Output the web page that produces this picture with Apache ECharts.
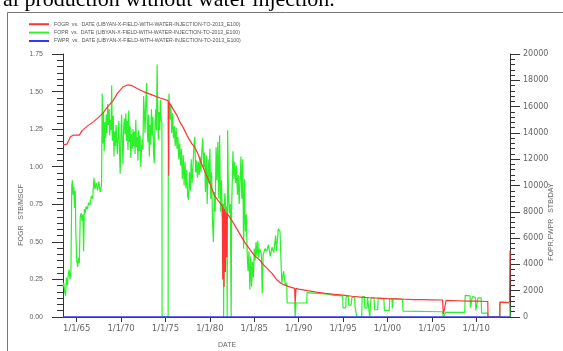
<!DOCTYPE html>
<html>
<head>
<meta charset="utf-8">
<script src="https://cdn.jsdelivr.net/npm/echarts@6/dist/echarts.min.js"></script>
<style>
  html, body { margin: 0; padding: 0; background: #fff; }
  #chart { width: 563px; height: 351px; }
</style>
</head>
<body>
<div id="chart"></div>
<script>
// Date axis: decimal years, labelled at 1 January every five years
const dateTicks = [1965, 1970, 1975, 1980, 1985, 1990, 1995, 2000, 2005, 2010];
const dateTickLabels = ['1/1/65', '1/1/70', '1/1/75', '1/1/80', '1/1/85', '1/1/90', '1/1/95', '1/1/00', '1/1/05', '1/1/10'];
const dateStart = 1963.46;
const dateEnd = 2013.8;

// Field oil/gas ratio, STB/MSCF (left axis)
const fogr = [
  [1963.46, 1.145], [1963.9, 1.15], [1964.3, 1.20], [1964.6, 1.21], [1965.3, 1.21], [1965.6, 1.24],
  [1966.2, 1.27], [1966.9, 1.30], [1967.5, 1.33], [1968.0, 1.36], [1968.5, 1.40], [1969.1, 1.44],
  [1969.6, 1.49], [1970.2, 1.53], [1970.8, 1.545], [1971.2, 1.54], [1971.8, 1.52], [1972.5, 1.50],
  [1973.4, 1.48], [1974.4, 1.457], [1975.3, 1.44], [1975.36, 1.44], [1975.37, 0.94], [1975.39, 1.43],
  [1975.7, 1.40], [1976.0, 1.37], [1976.3, 1.34], [1976.6, 1.30], [1977.0, 1.26], [1977.5, 1.20],
  [1978.0, 1.15], [1978.3, 1.13], [1978.7, 1.08], [1979.0, 1.03], [1979.5, 0.96], [1980.0, 0.89],
  [1980.5, 0.81], [1981.0, 0.77], [1981.4, 0.74], [1981.45, 0.25], [1981.5, 0.73], [1981.6, 0.20],
  [1981.65, 0.72], [1981.75, 0.30], [1981.8, 0.70], [1981.9, 0.40], [1981.95, 0.69], [1982.5, 0.64],
  [1983.0, 0.59], [1983.5, 0.54], [1984.0, 0.49], [1984.5, 0.45], [1985.0, 0.41], [1985.6, 0.38],
  [1986.0, 0.35], [1986.5, 0.32], [1987.0, 0.29], [1987.5, 0.25], [1988.0, 0.225], [1988.5, 0.21],
  [1989.0, 0.20], [1989.55, 0.19], [1989.6, 0.09], [1989.7, 0.19], [1990.0, 0.186], [1991.0, 0.175],
  [1992.0, 0.165], [1993.0, 0.157], [1994.0, 0.15], [1995.0, 0.145], [1996.0, 0.138], [1997.0, 0.132],
  [1998.0, 0.128], [1999.0, 0.125], [2000.0, 0.122], [2001.0, 0.12], [2002.0, 0.118], [2003.0, 0.116],
  [2004.0, 0.115], [2005.0, 0.114], [2006.2, 0.113], [2006.3, 0.02], [2006.5, 0.02], [2006.6, 0.11],
  [2008.0, 0.108], [2009.0, 0.106], [2010.0, 0.105], [2011.3, 0.103], [2011.32, 0], [2012.65, 0],
  [2012.67, 0.097], [2013.5, 0.097], [2013.75, 0.10], [2013.8, 0.44]
];

// Field oil production rate, STB/DAY (right axis)
const fopr = [
  [1963.46, 2300], [1963.55, 2600], [1963.65, 1900], [1963.75, 1600], [1963.85, 3000], [1963.95, 2400],
  [1964.05, 3200], [1964.15, 3600], [1964.25, 2900], [1964.35, 3400], [1964.45, 10000], [1964.52, 10400],
  [1964.6, 9300], [1964.68, 9900], [1964.76, 8300], [1964.84, 9600], [1964.9, 6600], [1965.0, 4400],
  [1965.1, 3800], [1965.2, 4500], [1965.3, 4100], [1965.4, 7600], [1965.5, 7900], [1965.6, 7300],
  [1965.7, 7800], [1965.78, 5000], [1965.86, 8200], [1965.95, 7900], [1966.05, 8400], [1966.2, 8200],
  [1966.35, 8700], [1966.5, 8500], [1966.65, 9200], [1966.8, 9000], [1966.95, 10600], [1967.05, 9700],
  [1967.2, 10200], [1967.35, 9600], [1967.5, 10300], [1967.65, 9500], [1967.8, 10000],
  [1967.88, 17000], [1967.95, 13200], [1968.02, 15600], [1968.1, 12600], [1968.18, 14800], [1968.26, 13600],
  [1968.34, 15400], [1968.42, 14000], [1968.5, 16200], [1968.58, 14600], [1968.66, 15800], [1968.72, 13800],
  [1968.8, 15000], [1968.88, 14200], [1968.94, 17600], [1969.02, 13400], [1969.12, 15300], [1969.2, 12200],
  [1969.28, 14100], [1969.36, 13000], [1969.44, 14600], [1969.5, 13600], [1969.58, 12400], [1969.66, 13800],
  [1969.74, 14900], [1969.82, 12600], [1969.9, 10900], [1969.98, 13700], [1970.06, 15400], [1970.14, 13100],
  [1970.22, 11600], [1970.3, 14500], [1970.38, 15100], [1970.46, 13900], [1970.54, 15500], [1970.62, 13400],
  [1970.7, 14900], [1970.78, 12700], [1970.86, 15700], [1970.94, 13300], [1971.02, 14500], [1971.1, 12100],
  [1971.18, 13900], [1971.26, 12800], [1971.34, 14300], [1971.42, 13000], [1971.5, 14100], [1971.58, 12400],
  [1971.66, 15000], [1971.74, 12900], [1971.82, 13700], [1971.9, 11900], [1971.98, 14200], [1972.06, 12600],
  [1972.14, 13800], [1972.22, 11400], [1972.3, 12800], [1972.38, 13500], [1972.46, 12700], [1972.54, 16800],
  [1972.62, 15600], [1972.7, 14000], [1972.78, 16200], [1972.88, 17800], [1972.94, 14600], [1973.02, 13300],
  [1973.1, 15400], [1973.18, 12200], [1973.26, 14600], [1973.34, 13100], [1973.42, 15800], [1973.5, 13800],
  [1973.58, 15200], [1973.66, 12400], [1973.74, 11700], [1973.82, 14600], [1973.9, 15800], [1973.98, 14200],
  [1974.06, 19200], [1974.12, 16000], [1974.2, 13500], [1974.28, 15600], [1974.36, 14200], [1974.44, 16500],
  [1974.52, 15000], [1974.6, 14800], [1974.62, 0], [1975.3, 0], [1975.32, 15000],
  [1975.4, 17000], [1975.5, 15000], [1975.6, 16200], [1975.7, 14000], [1975.8, 15500], [1975.9, 13600],
  [1976.0, 14500], [1976.1, 13000], [1976.2, 14400], [1976.3, 12800], [1976.4, 13700], [1976.5, 12000],
  [1976.6, 13200], [1976.7, 11500], [1976.8, 12800], [1976.9, 10500], [1977.0, 12300], [1977.1, 10000],
  [1977.2, 11800], [1977.3, 9800], [1977.4, 11200], [1977.5, 9200], [1977.6, 8900], [1977.7, 11000],
  [1977.8, 9600], [1977.9, 12000], [1978.0, 10200], [1978.1, 11500], [1978.2, 13000], [1978.3, 13700],
  [1978.4, 11000], [1978.5, 11900], [1978.6, 10600], [1978.7, 11800], [1978.8, 10800], [1978.9, 12200],
  [1979.0, 11000], [1979.1, 12700], [1979.2, 13600], [1979.3, 11400], [1979.4, 12500], [1979.5, 9500],
  [1979.6, 12300], [1979.7, 8600], [1979.8, 12000], [1979.9, 10200], [1980.0, 12800], [1980.1, 9000],
  [1980.2, 11000], [1980.3, 7200], [1980.4, 5700], [1980.5, 9500], [1980.6, 8000], [1980.7, 12900],
  [1980.8, 10400], [1980.9, 13300], [1981.0, 9000], [1981.1, 13800], [1981.2, 8000], [1981.3, 10400],
  [1981.4, 7600], [1981.5, 8600], [1981.55, 0], [1981.6, 8200], [1981.7, 9400], [1981.8, 7800],
  [1981.9, 8400], [1981.95, 0], [1982.0, 14200], [1982.1, 9000], [1982.2, 7900], [1982.3, 8600],
  [1982.4, 0], [1982.45, 8200], [1982.6, 12600], [1982.7, 10500], [1982.8, 11800], [1982.9, 10200],
  [1983.0, 11500], [1983.1, 9300], [1983.2, 10800], [1983.3, 8600], [1983.4, 10400], [1983.5, 12200],
  [1983.6, 9000], [1983.7, 12000], [1983.8, 5200], [1983.9, 10500], [1984.0, 6500], [1984.1, 7800],
  [1984.2, 4800], [1984.3, 3500], [1984.4, 5000], [1984.5, 2100], [1984.6, 4600], [1984.7, 2300],
  [1984.8, 4200], [1984.9, 3000], [1985.0, 5200], [1985.1, 4300], [1985.2, 5700], [1985.3, 4600],
  [1985.4, 5800], [1985.5, 4500], [1985.6, 5200], [1985.8, 4800], [1985.9, 1800], [1986.0, 4700],
  [1986.2, 5200], [1986.4, 5000], [1986.6, 5500], [1986.8, 4600], [1987.0, 5300], [1987.2, 4900],
  [1987.4, 6200], [1987.5, 5000], [1987.7, 6700], [1987.9, 6500], [1988.0, 6400], [1988.1, 2600],
  [1988.3, 3500], [1988.5, 2400], [1988.65, 2600], [1988.7, 1065], [1989.55, 1065], [1989.6, 0],
  [1989.7, 1065], [1990.9, 1065], [1990.95, 1850], [1992.0, 1800], [1993.0, 1750], [1994.0, 1650],
  [1994.95, 1600], [1995.0, 700], [1995.3, 700], [1995.35, 1550], [1995.6, 1550], [1995.65, 900],
  [1995.9, 900], [1996.0, 1500], [1996.3, 1500], [1996.35, 800], [1996.5, 800], [1996.55, 0],
  [1997.1, 0], [1997.15, 1550], [1997.4, 1550], [1997.45, 700], [1997.7, 700], [1997.75, 1500],
  [1997.95, 1500], [1998.0, 0], [1998.1, 0], [1998.15, 1450], [1998.5, 1450], [1998.55, 550],
  [1998.9, 550], [1998.95, 1400], [1999.6, 1400], [1999.65, 500], [2000.2, 500], [2000.25, 1400],
  [2000.5, 1400], [2000.55, 650], [2000.6, 650], [2000.65, 1400], [2001.7, 1350], [2001.75, 450],
  [2006.2, 400], [2006.3, 0], [2006.45, 0], [2006.55, 350], [2008.7, 350], [2008.75, 1650],
  [2009.3, 1600], [2009.35, 700], [2009.5, 700], [2009.55, 1550], [2009.9, 1500], [2009.95, 500],
  [2010.15, 500], [2010.2, 1450], [2010.55, 1450], [2010.6, 300], [2011.3, 300], [2011.32, 0],
  [2012.65, 0], [2012.67, 1150], [2013.75, 1050], [2013.8, 0]
];

// Field water production rate, STB/DAY (right axis) - no water produced
const fwpr = [[1963.46, 0], [2013.8, 0]];

const caseLabel = '  vs.  DATE (LIBYAN-X-FIELD-WITH-WATER-INJECTION-TO-2013_E100)';

const chart = echarts.init(document.getElementById('chart'), null, { renderer: 'canvas' });

const axisInk = '#333';
const labelInk = '#666';

chart.setOption({
  animation: false,
  backgroundColor: '#fff',
  grid: { left: 63, right: 53, top: 54, bottom: 34, containLabel: false },
  legend: {
    orient: 'vertical',
    left: 24,
    top: 15,
    itemWidth: 20,
    itemHeight: 2,
    itemGap: 0,
    icon: 'rect',
    selectedMode: false,
    data: ['FOGR', 'FOPR', 'FWPR'],
    formatter: name => name + caseLabel,
    textStyle: { fontSize: 5.2, lineHeight: 8.4, color: '#555', fontFamily: 'Liberation Sans' }
  },
  xAxis: {
    type: 'value',
    min: dateStart,
    max: dateEnd,
    splitLine: { show: false },
    axisLine: { show: true, lineStyle: { color: axisInk, width: 1 } },
    axisTick: { show: true, customValues: dateTicks, length: 5, lineStyle: { color: axisInk } },
    axisLabel: {
      customValues: dateTicks,
      formatter: v => dateTickLabels[dateTicks.indexOf(Math.round(v))],
      color: labelInk, fontSize: 8.5, fontFamily: 'DejaVu Sans', margin: 7
    }
  },
  yAxis: [
    {
      type: 'value', position: 'left', min: 0, max: 1.75, interval: 0.25,
      splitLine: { show: false },
      axisLine: { show: true, lineStyle: { color: axisInk } },
      axisTick: { show: true, length: 11, lineStyle: { color: axisInk } },
      minorTick: { show: true, splitNumber: 6, length: 6, lineStyle: { color: axisInk } },
      axisLabel: { formatter: v => v.toFixed(2), color: labelInk, fontSize: 7, fontFamily: 'Liberation Sans', margin: 20 }
    },
    {
      type: 'value', position: 'right', min: 0, max: 20000, interval: 2000,
      splitLine: { show: false },
      axisLine: { show: true, lineStyle: { color: axisInk } },
      axisTick: { show: true, length: 10, lineStyle: { color: axisInk } },
      minorTick: { show: true, splitNumber: 5, length: 5, lineStyle: { color: axisInk } },
      axisLabel: { formatter: v => String(v), color: labelInk, fontSize: 8, fontFamily: 'DejaVu Sans', margin: 13 }
    }
  ],
  series: [
    {
      name: 'FOPR', type: 'line', yAxisIndex: 1, data: fopr, showSymbol: false, z: 2,
      itemStyle: { color: '#2bf02b' }, lineStyle: { color: '#2bf02b', width: 1.2 }
    },
    {
      name: 'FOGR', type: 'line', yAxisIndex: 0, data: fogr, showSymbol: false, z: 3,
      itemStyle: { color: '#ff3535' }, lineStyle: { color: '#ff3535', width: 1.2 }
    },
    {
      name: 'FWPR', type: 'line', yAxisIndex: 1, data: fwpr, showSymbol: false, z: 4,
      itemStyle: { color: '#3535ff' }, lineStyle: { color: '#3535ff', width: 1.6 }
    }
  ],
  graphic: [
    { type: 'line', silent: true, shape: { x1: 7.5, y1: 12.5, x2: 563, y2: 12.5 }, style: { stroke: '#777', lineWidth: 1 } },
    { type: 'line', silent: true, shape: { x1: 7.5, y1: 12.5, x2: 7.5, y2: 351 }, style: { stroke: '#777', lineWidth: 1 } },
    { type: 'text', silent: true, x: 3, y: 11.5,
      style: { text: 'al production without water injection.', font: '22px "Liberation Serif"', fill: '#000', textVerticalAlign: 'bottom' } },
    { type: 'text', silent: true, x: 21, y: 215, rotation: Math.PI / 2,
      style: { text: 'FOGR   STB/MSCF', font: '7px "Liberation Sans"', fill: labelInk, textAlign: 'center', textVerticalAlign: 'middle' } },
    { type: 'text', silent: true, x: 551, y: 222, rotation: Math.PI / 2,
      style: { text: 'FOPR,FWPR   STB/DAY', font: '7px "Liberation Sans"', fill: labelInk, textAlign: 'center', textVerticalAlign: 'middle' } },
    { type: 'text', silent: true, x: 227, y: 345,
      style: { text: 'DATE', font: '7px "Liberation Sans"', fill: labelInk, textAlign: 'center', textVerticalAlign: 'middle' } }
  ]
});
</script>
</body>
</html>
